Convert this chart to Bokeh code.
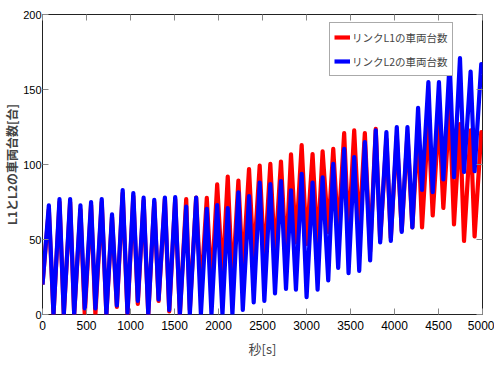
import math
from bokeh.plotting import figure
from bokeh.models import Range1d, LinearAxis, Legend, LegendItem, FixedTicker
from bokeh.embed import file_html
from bokeh.resources import INLINE

# --- data (peak / trough extremes of each cycle) ---
start_t = 0
end_t = 5000
peak_t = [72, 193, 314, 431, 552, 673, 790, 911, 1032, 1149, 1270, 1391, 1508, 1633,
          1746, 1867, 1985, 2105, 2226, 2347, 2468, 2589, 2710, 2824, 2945, 3069, 3183,
          3304, 3428, 3542, 3663, 3787, 3908, 4026, 4147, 4268, 4385, 4505, 4627, 4744,
          4865, 4986]
trough_t = [125, 242, 360, 480, 601, 726, 845, 966, 1083, 1202, 1319, 1440, 1561, 1674,
            1800, 1920, 2045, 2158, 2276, 2400, 2521, 2642, 2767, 2880, 3001, 3126, 3247,
            3360, 3478, 3599, 3723, 3837, 3958, 4082, 4203, 4313, 4434, 4555, 4676, 4790,
            4910]

l1_start, l1_end = 20, 118
l1_peaks = [70, 75, 75, 70, 73, 75, 65, 81, 79, 76, 75, 77, 77, 77, 78, 77.8, 86.7, 92,
            89.3, 97, 99.3, 100.4, 102, 106.7, 113, 107, 108.7, 110.4, 121, 122.7, 121,
            123.8, 117, 119, 120, 123, 130, 132.7, 138, 127, 122.7, 121.6]
l1_troughs = [0, 0, 0, 0, 0, 0, 5, 0, 7, 0, 9, 2, 0, 3, 14, 18, 25, 20, 29, 35.6, 34, 39,
              37, 48, 47, 45, 55, 54, 53, 55, 42, 50, 51, 56, 58, 58, 66, 71, 60, 49, 52]

l2_start, l2_end = 20, 160
l2_peaks = [72.7, 77, 77, 72.7, 75, 77, 66.7, 83, 81, 78, 76.5, 78, 78.3, 72, 78, 70.4,
            73, 71, 81.5, 79, 88, 87, 89, 82.7, 93.8, 88, 91.5, 100.4, 110.4, 105, 115,
            122.7, 121.6, 125, 125, 137.8, 155, 155, 169, 171, 162, 167]
l2_troughs = [0, 0, 0, 4, 4, 0, 6, 1, 9, 0, 10, 3, 0, 0, 0, 0, 0, 0, 3, 8, 9, 14, 17,
              16.5, 11.6, 16.5, 22.7, 31, 27.5, 29, 36, 48, 49, 55, 58, 83, 81.5, 90,
              91.5, 95, 95.5]

series_names = ["リンクL1の車両台数", "リンクL2の車両台数"]
x_ticks = [0, 500, 1000, 1500, 2000, 2500, 3000, 3500, 4000, 4500, 5000]
y_ticks = [0, 50, 100, 150, 200]
x_label = "秒[s]"
y_label = "L1とL2の車両台数[台]"


def build(start_v, peaks, troughs, end_v):
    ts = [start_t]
    vs = [start_v]
    for i, (pt, pv) in enumerate(zip(peak_t, peaks)):
        ts.append(pt)
        vs.append(pv)
        if i < len(trough_t):
            ts.append(trough_t[i])
            vs.append(troughs[i])
    ts.append(end_t)
    vs.append(end_v)
    return ts, vs


x1, y1 = build(l1_start, l1_peaks, l1_troughs, l1_end)
x2, y2 = build(l2_start, l2_peaks, l2_troughs, l2_end)

NUM_FONT = "Liberation Sans"
JP_FONT = "Noto Sans CJK JP"

p = figure(width=494, height=367, output_backend="svg", toolbar_location=None,
           x_range=Range1d(0, 5000), y_range=Range1d(0, 200),
           min_border_left=41, min_border_right=12, min_border_top=14, min_border_bottom=53)
p.xgrid.visible = False
p.ygrid.visible = False
p.outline_line_color = "#222222"
p.outline_line_width = 1
p.background_fill_color = "white"
p.border_fill_color = "white"

r1 = p.line(x1, y1, line_color="#ff0000", line_width=4.2, line_join="round")
r2 = p.line(x2, y2, line_color="#0000ff", line_width=4.2, line_join="round")

for ax in (p.xaxis[0], p.yaxis[0]):
    ax.axis_line_color = None
    ax.major_tick_in = 6
    ax.major_tick_out = 0
    ax.major_tick_line_color = "#888888"
    ax.minor_tick_line_color = None
    ax.major_label_text_font = NUM_FONT
    ax.major_label_text_color = "black"

p.xaxis[0].major_label_text_font_size = "12px"
p.yaxis[0].major_label_text_font_size = "11px"
p.xaxis[0].ticker = FixedTicker(ticks=x_ticks)
p.yaxis[0].ticker = FixedTicker(ticks=y_ticks)
p.xaxis[0].major_label_standoff = 6
p.yaxis[0].major_label_standoff = 1

p.xaxis[0].axis_label = x_label
p.xaxis[0].axis_label_text_font = JP_FONT
p.xaxis[0].axis_label_text_font_size = "13px"
p.xaxis[0].axis_label_text_font_style = "normal"
p.xaxis[0].axis_label_standoff = 6

p.yaxis[0].axis_label = y_label
p.yaxis[0].axis_label_text_font = JP_FONT
p.yaxis[0].axis_label_text_font_size = "12px"
p.yaxis[0].axis_label_text_font_style = "bold"
p.yaxis[0].axis_label_standoff = 0

# mirrored ticks on top and right (box on)
top = LinearAxis(ticker=FixedTicker(ticks=x_ticks), axis_line_color=None,
                 major_tick_in=6, major_tick_out=0, major_tick_line_color="#888888",
                 minor_tick_line_color=None, major_label_text_color=None,
                 major_label_standoff=0)
right = LinearAxis(ticker=FixedTicker(ticks=y_ticks), axis_line_color=None,
                   major_tick_in=6, major_tick_out=0, major_tick_line_color="#888888",
                   minor_tick_line_color=None, major_label_text_color=None,
                   major_label_standoff=0)
p.add_layout(top, "above")
p.add_layout(right, "right")

legend = Legend(items=[LegendItem(label=series_names[0], renderers=[r1]),
                       LegendItem(label=series_names[1], renderers=[r2])],
                location=(287, 238), orientation="vertical")
legend.label_text_font = JP_FONT
legend.label_text_font_size = "10.5px"
legend.label_standoff = 2
legend.glyph_width = 16
legend.glyph_height = 20
legend.label_height = 20
legend.spacing = 4
legend.padding = 4
legend.margin = 0
legend.border_line_color = "#555555"
legend.border_line_width = 1
legend.background_fill_color = "white"
legend.background_fill_alpha = 1
p.add_layout(legend, "center")

open("out.html", "w").write(file_html(p, INLINE))
